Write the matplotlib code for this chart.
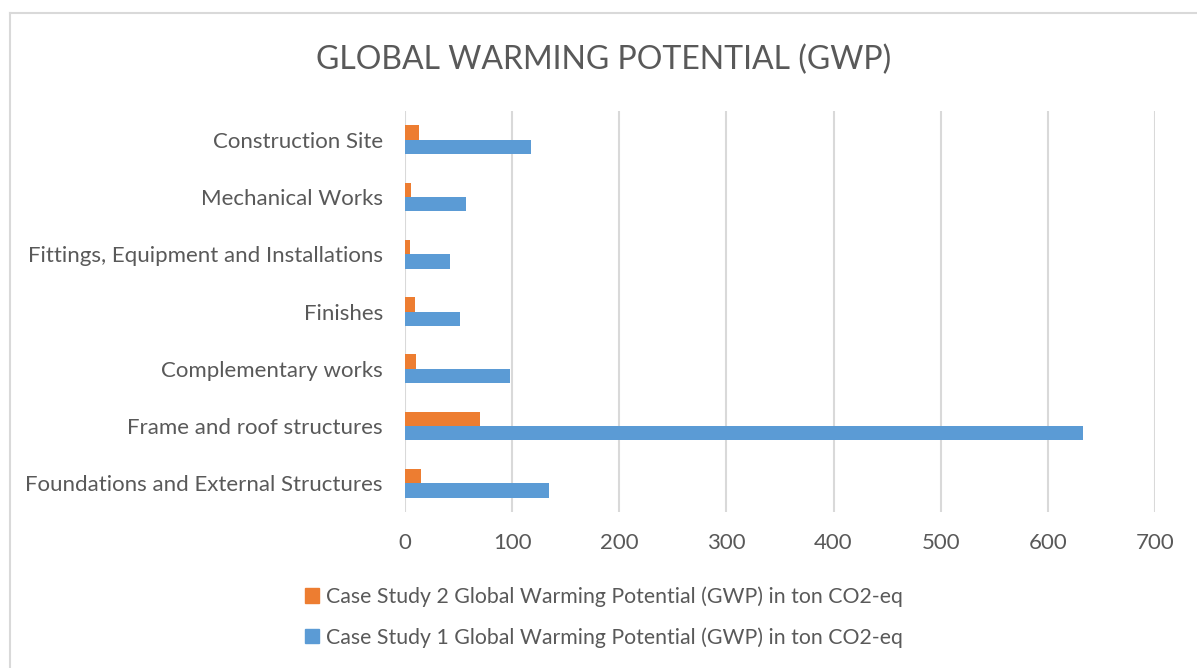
import matplotlib.pyplot as plt
from matplotlib.lines import Line2D
from matplotlib.patches import Patch

# GWP per building element, ton CO2-eq
categories = ['Foundations and External Structures', 'Frame and roof structures',
              'Complementary works', 'Finishes', 'Fittings, Equipment and Installations',
              'Mechanical Works', 'Construction Site']
case1 = [134.8, 632.5, 97.7, 51.2, 41.9, 56.9, 118.0]
case2 = [14.5, 69.9, 10.7, 9.5, 4.2, 5.8, 12.6]
xticks = [0, 100, 200, 300, 400, 500, 600, 700]

label1 = 'Case Study 1 Global Warming Potential (GWP) in ton CO2-eq'
label2 = 'Case Study 2 Global Warming Potential (GWP) in ton CO2-eq'

blue = '#5b9bd5'
orange = '#ed7d31'
grey = '#595959'

plt.rcParams['font.family'] = ['Lato', 'DejaVu Sans']

W, H = 1197, 668
fig = plt.figure(figsize=(W / 100, H / 100), dpi=100)
# plot area in pixels: x 405..1155, y 111..512
ax = fig.add_axes([405 / W, 1 - 512 / H, 750 / W, 401 / H])

y = list(range(len(categories)))
h = 0.25
ax.barh([i - h / 2 for i in y], case1, height=h, color=blue, zorder=3)
ax.barh([i + h / 2 for i in y], case2, height=h, color=orange, zorder=3)

ax.set_xlim(0, 700)
ax.set_ylim(-0.5, len(categories) - 0.5)
ax.set_xticks(xticks)
ax.set_yticks(y)
ax.set_yticklabels(categories)
ax.tick_params(axis='both', length=0, labelsize=16, colors=grey)
ax.tick_params(axis='x', pad=15)
ax.tick_params(axis='y', pad=16)
ax.grid(axis='x', color='#d9d9d9', linewidth=1.5, zorder=0)
for s in ax.spines.values():
    s.set_visible(False)

fig.text(604 / W, 1 - 60 / H, 'GLOBAL WARMING POTENTIAL (GWP)', ha='center', va='center',
         fontsize=23, color=grey)

handles = [Patch(color=orange), Patch(color=blue)]
fig.legend(handles, [label2, label1], loc='center left',
           bbox_to_anchor=(286 / W, 1 - 617 / H), frameon=False, fontsize=15.3,
           labelcolor=grey, handlelength=0.65, handleheight=0.65, handletextpad=0.35,
           labelspacing=0.95)

# outer chart border (top and left edges visible)
fig.add_artist(Line2D([10 / W, 1], [1 - 12.5 / H, 1 - 12.5 / H], color='#d9d9d9',
                      linewidth=1.5, transform=fig.transFigure))
fig.add_artist(Line2D([10 / W, 10 / W], [0, 1 - 12.5 / H], color='#d9d9d9',
                      linewidth=1.5, transform=fig.transFigure))

fig.savefig('out.png', dpi=100)
